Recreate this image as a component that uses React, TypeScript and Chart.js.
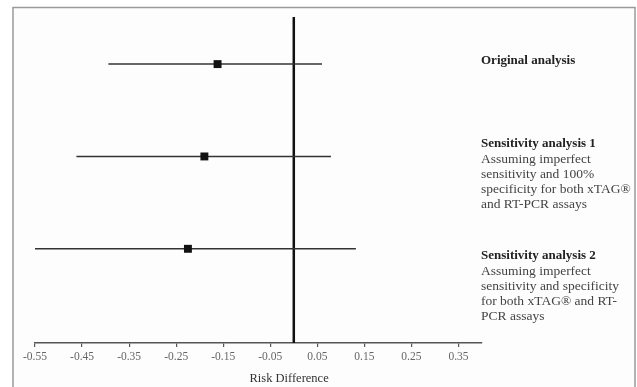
import React, { useEffect, useRef } from "react";
import { Chart, registerables } from "chart.js";

Chart.register(...registerables);

const STUDIES = ["Original analysis", "Sensitivity analysis 1", "Sensitivity analysis 2"];
const ESTIMATES = [-0.162, -0.19, -0.225];
const LOWER = [-0.394, -0.462, -0.553];
const UPPER = [0.06, 0.079, 0.132];
const STUDY_NOTES: string[][] = [
  [],
  ["Assuming imperfect", "sensitivity and 100%", "specificity for both xTAG®", "and RT-PCR assays"],
  ["Assuming imperfect", "sensitivity and specificity", "for both xTAG® and RT-", "PCR assays"],
];
const X_TICKS = [-0.55, -0.45, -0.35, -0.25, -0.15, -0.05, 0.05, 0.15, 0.25, 0.35];
const X_TITLE = "Risk Difference";

const SERIF = "'Liberation Serif', 'Times New Roman', serif";

export default function App() {
  const ref = useRef<HTMLCanvasElement | null>(null);

  useEffect(() => {
    const canvas = ref.current;
    if (!canvas) return;

    const rows = STUDIES.map((_, i) => i + 1);
    const datasets: any[] = [];
    datasets.push({
      type: "line",
      data: [
        { x: 0, y: 0.49 },
        { x: 0, y: 4.02 },
      ],
      borderColor: "#111",
      borderWidth: 2.5,
      pointRadius: 0,
      order: 3,
    });
    rows.forEach((r, i) => {
      datasets.push({
        type: "line",
        data: [
          { x: LOWER[i], y: r },
          { x: UPPER[i], y: r },
        ],
        borderColor: "#333",
        borderWidth: 1.5,
        pointRadius: 0,
        order: 2,
      });
    });
    datasets.push({
      type: "scatter",
      data: rows.map((r, i) => ({ x: ESTIMATES[i], y: r })),
      pointStyle: "rect",
      pointRadius: 5.6,
      backgroundColor: "#111",
      borderColor: "#111",
      borderWidth: 0,
      order: 1,
    });

    const framePlugin = {
      id: "frame",
      beforeDraw(chart: any) {
        const ctx = chart.ctx;
        ctx.save();
        ctx.fillStyle = "#ffffff";
        ctx.fillRect(0, 0, chart.width, chart.height);
        ctx.fillStyle = "#fdfdfd";
        ctx.fillRect(13, 7.5, 622, chart.height);
        ctx.strokeStyle = "#9a9a9a";
        ctx.lineWidth = 1.5;
        ctx.strokeRect(13, 7.5, 622, chart.height + 10);
        ctx.restore();
      },
      afterDraw(chart: any) {
        const ctx = chart.ctx;
        const xs = chart.scales.x;
        ctx.save();
        ctx.textBaseline = "middle";
        ctx.textAlign = "left";
        const tx = 481;
        const titleY = [61, 144, 256];
        STUDIES.forEach((s, i) => {
          ctx.font = `bold 13px ${SERIF}`;
          ctx.fillStyle = "#222";
          ctx.fillText(s, tx, titleY[i]);
          ctx.font = `13.5px ${SERIF}`;
          ctx.fillStyle = "#444";
          STUDY_NOTES[i].forEach((line, j) => {
            ctx.fillText(line, tx, titleY[i] + 15 * (j + 1));
          });
        });
        ctx.textAlign = "center";
        ctx.font = `12.5px ${SERIF}`;
        ctx.fillStyle = "#333";
        ctx.fillText(X_TITLE, xs.getPixelForValue(-0.01), 379);
        ctx.restore();
      },
    };

    const chart = new Chart(canvas, {
      type: "scatter",
      data: { datasets },
      options: {
        animation: false,
        responsive: false,
        maintainAspectRatio: false,
        layout: { padding: { left: 35, right: 155, top: 17, bottom: 0 } },
        plugins: { legend: { display: false }, tooltip: { enabled: false } },
        scales: {
          x: {
            type: "linear",
            min: -0.55,
            max: 0.4,
            afterBuildTicks: (s: any) => {
              s.ticks = X_TICKS.map((v) => ({ value: v }));
            },
            afterFit: (s: any) => {
              s.height = 387 - 343;
            },
            border: { display: true, color: "#555", width: 1.5 },
            grid: {
              drawOnChartArea: false,
              drawTicks: true,
              tickLength: 4,
              color: "#555",
              lineWidth: 1.2,
            },
            ticks: {
              autoSkip: false,
              maxRotation: 0,
              padding: 3,
              color: "#666",
              font: { family: SERIF, size: 11.5 },
              callback: (v: any) => Number(v).toFixed(2),
            },
          },
          y: {
            type: "linear",
            display: false,
            reverse: true,
            min: 0.49,
            max: 4.02,
          },
        },
      },
      plugins: [framePlugin],
    });

    return () => chart.destroy();
  }, []);

  return (
    <div style={{ position: "absolute", left: 0, top: 0, width: 637, height: 387 }}>
      <canvas ref={ref} width={637} height={387} style={{ width: 637, height: 387, display: "block" }} />
    </div>
  );
}
